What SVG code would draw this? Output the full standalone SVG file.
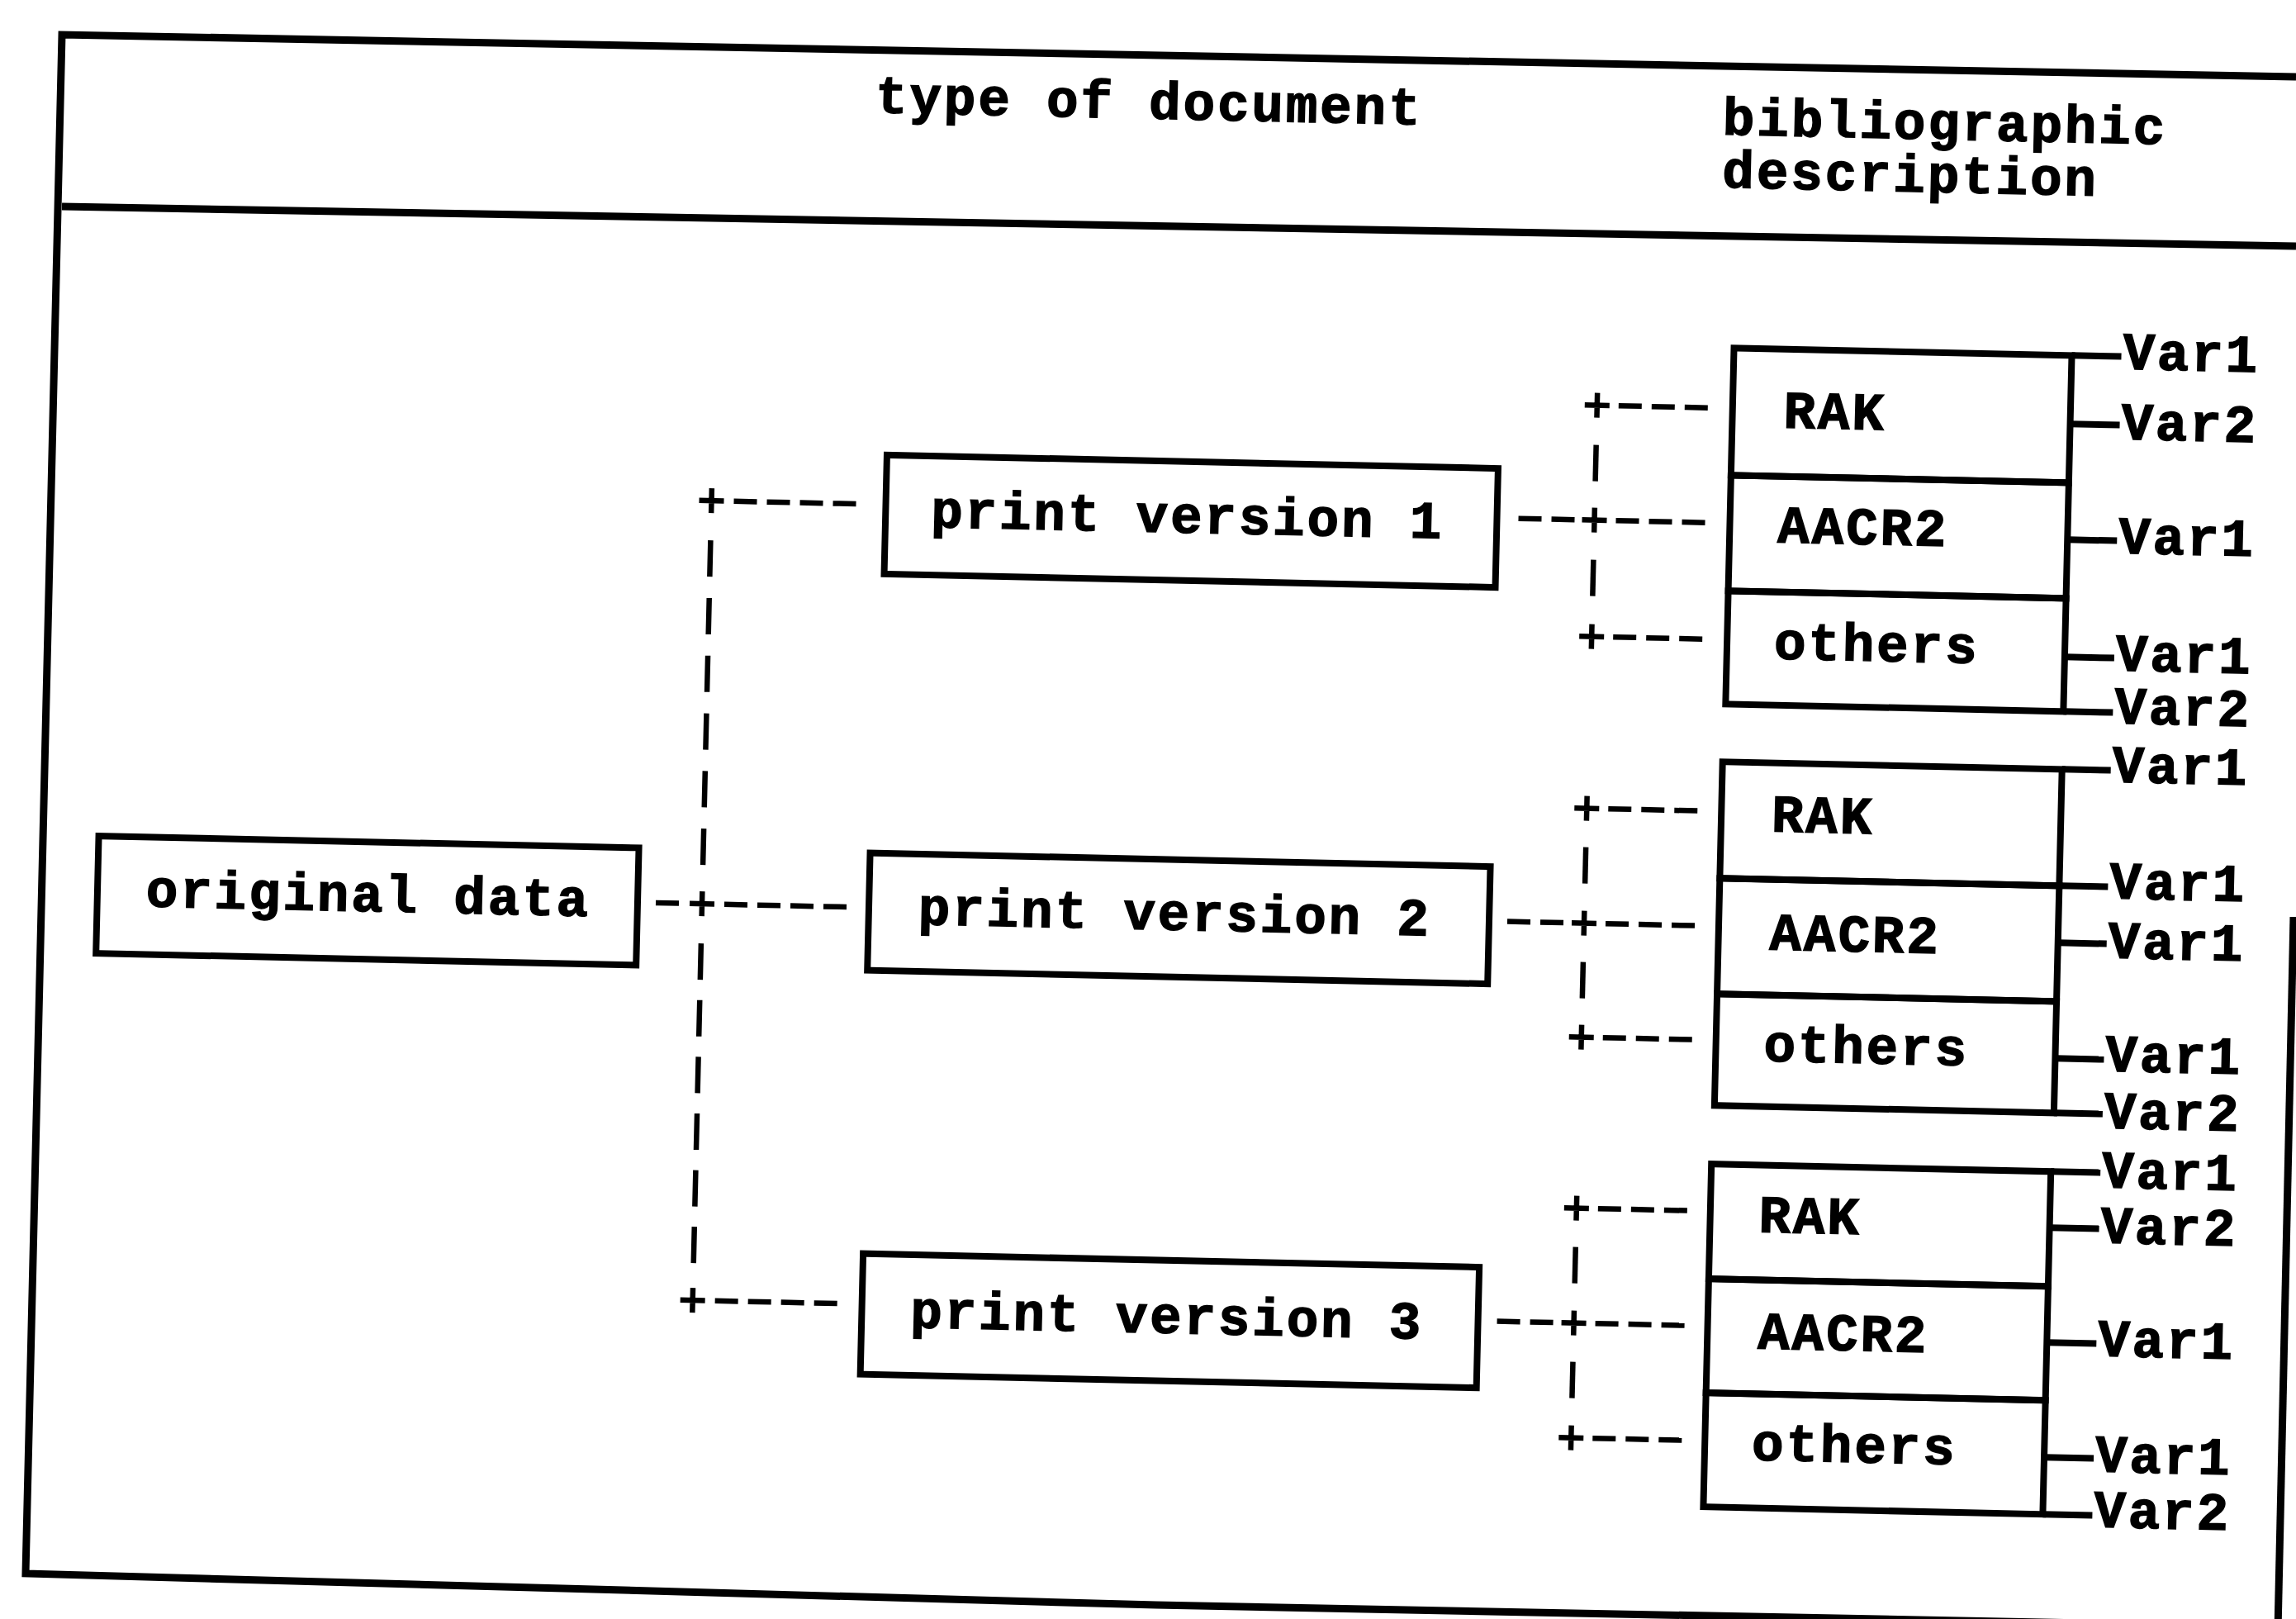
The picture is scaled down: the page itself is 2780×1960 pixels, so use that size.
<svg xmlns="http://www.w3.org/2000/svg" width="2780" height="1960" viewBox="0 0 2780 1960">
<style>
  .t { font-family: "Liberation Mono", "DejaVu Sans Mono", monospace; font-weight: bold; font-size: 64px; letter-spacing: 3px; fill: #000; stroke: #000; stroke-width: 1.5; }
  .box { fill: none; stroke: #000; stroke-width: 8; }
  .ln { stroke: #000; stroke-width: 8; fill: none; }
  .fr { stroke: #000; stroke-width: 9; fill: none; }
  .dh { stroke: #000; stroke-width: 6.5; stroke-dasharray: 28 12; fill: none; }
  .dv { stroke: #000; stroke-width: 6.5; stroke-dasharray: 44 25; fill: none; }
  .pl { stroke: #000; stroke-width: 6.5; fill: none; }
</style>
<defs>
  <path id="plus" class="pl" d="M-15 0H15M0 -15V15"/>
</defs>
<rect width="2780" height="1960" fill="#fff"/>
<g id="frame">
  <polyline class="fr" points="2780,93 75,42 31,1905 1400,1943 2780,1970"/>
  <line class="fr" x1="75" y1="250" x2="2780" y2="298"/>
  <line class="fr" x1="2777" y1="1110" x2="2758" y2="1975"/>
</g>
<g transform="matrix(1 0.022 -0.0236 1 23.1 -30.6)">
  <g id="header">
    <text class="t" x="1040" y="144">type of document</text>
    <text class="t" x="2066" y="148">bibliographic</text>
    <text class="t" x="2067" y="212">description</text>
  </g>
  <g id="original-data">
    <rect class="box" x="121" y="1040" width="654" height="142"/>
    <text class="t" x="180" y="1124">original data</text>
  </g>
  <g id="print-version-1">
    <rect class="box" x="1064" y="558" width="740" height="144"/>
    <text class="t" x="1119" y="644">print version 1</text>
  </g>
  <g id="print-version-2">
    <rect class="box" x="1055" y="1040" width="751" height="142"/>
    <text class="t" x="1115" y="1125">print version 2</text>
  </g>
  <g id="print-version-3">
    <rect class="box" x="1058" y="1525" width="746" height="146"/>
    <text class="t" x="1117" y="1613">print version 3</text>
  </g>
  <g id="description-1">
    <rect class="box" x="2086" y="406" width="409" height="154"/>
    <rect class="box" x="2086" y="560" width="409" height="140"/>
    <rect class="box" x="2086" y="700" width="409" height="137"/>
    <text class="t" x="2148" y="501">RAK</text>
    <text class="t" x="2144" y="640">AACR2</text>
    <text class="t" x="2143" y="781">others</text>
    <text class="t" x="2557" y="421">Var1</text>
    <text class="t" x="2557" y="506">Var2</text>
    <text class="t" x="2557" y="644">Var1</text>
    <text class="t" x="2557" y="786">Var1</text>
    <text class="t" x="2557" y="850">Var2</text>
  </g>
  <g id="description-2">
    <rect class="box" x="2084" y="907" width="411" height="141"/>
    <rect class="box" x="2084" y="1048" width="411" height="140"/>
    <rect class="box" x="2084" y="1188" width="411" height="135"/>
    <text class="t" x="2145" y="990">RAK</text>
    <text class="t" x="2146" y="1133">AACR2</text>
    <text class="t" x="2142" y="1268">others</text>
    <text class="t" x="2556" y="921">Var1</text>
    <text class="t" x="2556" y="1062">Var1</text>
    <text class="t" x="2556" y="1134">Var1</text>
    <text class="t" x="2556" y="1271">Var1</text>
    <text class="t" x="2556" y="1340">Var2</text>
  </g>
  <g id="description-3">
    <rect class="box" x="2082" y="1394" width="411" height="139"/>
    <rect class="box" x="2082" y="1533" width="411" height="138"/>
    <rect class="box" x="2082" y="1671" width="411" height="138"/>
    <text class="t" x="2141" y="1475">RAK</text>
    <text class="t" x="2143" y="1616">AACR2</text>
    <text class="t" x="2139" y="1751">others</text>
    <text class="t" x="2555" y="1412">Var1</text>
    <text class="t" x="2555" y="1479">Var2</text>
    <text class="t" x="2555" y="1616">Var1</text>
    <text class="t" x="2555" y="1756">Var1</text>
    <text class="t" x="2555" y="1823">Var2</text>
  </g>
  <g id="connectors">
    <line class="dv" x1="853" y1="666" x2="853" y2="1061" style="stroke-dasharray:44 25.8"/>
    <line class="dv" x1="853" y1="1154" x2="853" y2="1541" style="stroke-dasharray:44 24.6"/>
    <line class="dh" x1="880" y1="618" x2="1033" y2="618"/>
    <line class="dh" x1="797" y1="1106" x2="825" y2="1106"/>
    <line class="dh" x1="880" y1="1106" x2="1031" y2="1106"/>
    <line class="dh" x1="880" y1="1586" x2="1034" y2="1586"/>
    <use href="#plus" x="853" y="618"/>
    <use href="#plus" x="853" y="1106"/>
    <use href="#plus" x="853" y="1586"/>
    <line class="dh" x1="1830" y1="618" x2="1898" y2="618"/>
    <line class="dv" x1="1922" y1="527" x2="1922" y2="571"/>
    <line class="dv" x1="1922" y1="666" x2="1922" y2="710"/>
    <line class="dh" x1="1948" y1="479" x2="2059" y2="479"/>
    <line class="dh" x1="1948" y1="618" x2="2059" y2="618"/>
    <line class="dh" x1="1948" y1="759" x2="2059" y2="759"/>
    <use href="#plus" x="1922" y="479"/>
    <use href="#plus" x="1922" y="618"/>
    <use href="#plus" x="1922" y="759"/>
    <line class="dh" x1="1828" y1="1106" x2="1896" y2="1106"/>
    <line class="dv" x1="1921" y1="1014" x2="1921" y2="1058"/>
    <line class="dv" x1="1921" y1="1153" x2="1921" y2="1197"/>
    <line class="dh" x1="1947" y1="967" x2="2058" y2="967"/>
    <line class="dh" x1="1947" y1="1106" x2="2058" y2="1106"/>
    <line class="dh" x1="1947" y1="1244" x2="2058" y2="1244"/>
    <use href="#plus" x="1921" y="967"/>
    <use href="#plus" x="1921" y="1106"/>
    <use href="#plus" x="1921" y="1244"/>
    <line class="dh" x1="1827" y1="1590" x2="1895" y2="1590"/>
    <line class="dv" x1="1920" y1="1498" x2="1920" y2="1542"/>
    <line class="dv" x1="1920" y1="1637" x2="1920" y2="1681"/>
    <line class="dh" x1="1946" y1="1451" x2="2057" y2="1451"/>
    <line class="dh" x1="1946" y1="1590" x2="2057" y2="1590"/>
    <line class="dh" x1="1946" y1="1729" x2="2057" y2="1729"/>
    <use href="#plus" x="1920" y="1451"/>
    <use href="#plus" x="1920" y="1590"/>
    <use href="#plus" x="1920" y="1729"/>
    <line class="ln" x1="2495" y1="406" x2="2555" y2="406"/>
    <line class="ln" x1="2495" y1="489" x2="2555" y2="489"/>
    <line class="ln" x1="2495" y1="629" x2="2555" y2="629"/>
    <line class="ln" x1="2495" y1="771" x2="2555" y2="771"/>
    <line class="ln" x1="2495" y1="837" x2="2555" y2="837"/>
    <line class="ln" x1="2495" y1="907" x2="2554" y2="907"/>
    <line class="ln" x1="2495" y1="1048" x2="2554" y2="1048"/>
    <line class="ln" x1="2495" y1="1117" x2="2554" y2="1117"/>
    <line class="ln" x1="2495" y1="1257" x2="2554" y2="1257"/>
    <line class="ln" x1="2495" y1="1323" x2="2554" y2="1323"/>
    <line class="ln" x1="2493" y1="1394" x2="2553" y2="1394"/>
    <line class="ln" x1="2493" y1="1462" x2="2553" y2="1462"/>
    <line class="ln" x1="2493" y1="1601" x2="2553" y2="1601"/>
    <line class="ln" x1="2493" y1="1740" x2="2553" y2="1740"/>
    <line class="ln" x1="2493" y1="1809" x2="2553" y2="1809"/>
  </g>
</g>
</svg>
